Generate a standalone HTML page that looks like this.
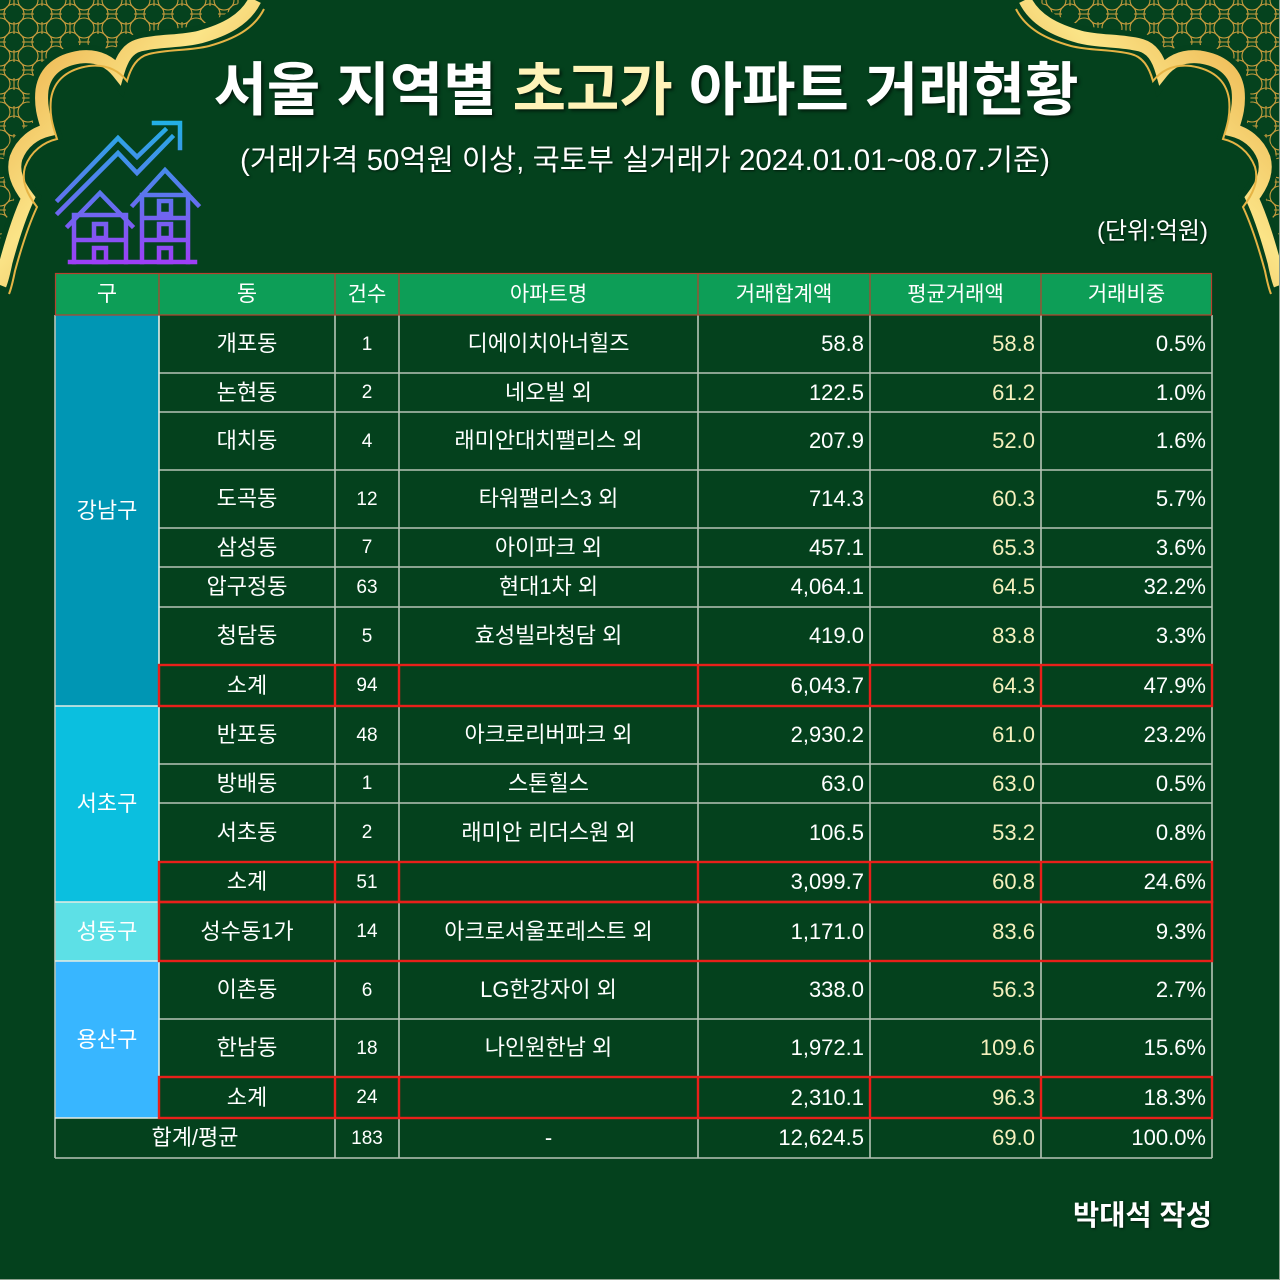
<!DOCTYPE html>
<html><head><meta charset="utf-8">
<style>
*{margin:0;padding:0;box-sizing:border-box}
body{width:1280px;height:1280px;background:#04411d;overflow:hidden;position:relative;font-family:"Liberation Sans","Noto Sans CJK KR",sans-serif}
.abs{position:absolute}
.title{position:absolute;left:0;width:1292px;top:62px;text-align:center;font-size:58px;font-weight:bold;line-height:1;color:#fff;white-space:nowrap;text-shadow:2px 2px 3px rgba(0,0,0,.6)}
.title span{color:#fff3b8}
.sub{position:absolute;left:0;width:1290px;top:146px;text-align:center;font-size:29.5px;line-height:1;color:#fff;white-space:nowrap;text-shadow:1px 1px 2px rgba(0,0,0,.6)}
.unit{position:absolute;right:72px;top:220px;font-size:24px;line-height:1;color:#fff;white-space:nowrap;text-shadow:1px 1px 2px rgba(0,0,0,.6)}
.auth{position:absolute;right:68px;top:1202px;font-size:28.5px;font-weight:bold;line-height:1;color:#fff;white-space:nowrap;text-shadow:1px 1px 2px rgba(0,0,0,.6)}
.hdr{position:absolute;left:55px;top:273px;width:1157px;height:42px;background:#0d9e57}
.row{position:absolute;left:0;width:1280px}
.row>div{position:absolute;top:0;height:100%;display:flex;align-items:center;justify-content:center;color:#fff;font-size:22px;line-height:1;white-space:nowrap}
.c0{left:55px;width:104px}
.c1{left:159px;width:176px}
.c2{left:335px;width:64px;font-size:19px!important}
.c3{left:399px;width:299px}
.c4{left:698px;width:172px;justify-content:flex-end!important;padding-right:6px}
.c5{left:870px;width:171px;justify-content:flex-end!important;padding-right:6px;color:#f6f0bd!important}
.c6{left:1041px;width:171px;justify-content:flex-end!important;padding-right:6px}
.cw{left:55px;width:280px}
.gu{position:absolute;left:55px;width:104px;display:flex;align-items:center;justify-content:center;color:#fff;font-size:22px;line-height:1}
</style></head><body>

<svg class="abs" style="left:0;top:0" width="1280" height="1280" viewBox="0 0 1280 1280">
<defs>
<pattern id="lat" width="28" height="28" patternUnits="userSpaceOnUse">
<rect width="28" height="28" fill="#05421e"/>
<circle cx="0" cy="0" r="10" fill="none" stroke="#c99d3e" stroke-width="1.1"/>
<circle cx="28" cy="0" r="10" fill="none" stroke="#c99d3e" stroke-width="1.1"/>
<circle cx="0" cy="28" r="10" fill="none" stroke="#c99d3e" stroke-width="1.1"/>
<circle cx="28" cy="28" r="10" fill="none" stroke="#c99d3e" stroke-width="1.1"/>
<circle cx="14" cy="14" r="10" fill="none" stroke="#c99d3e" stroke-width="1.1"/>
<path d="M14 0 V6 M14 22 V28 M0 14 H6 M22 14 H28" stroke="#c99d3e" stroke-width="1.1"/>
</pattern>
<linearGradient id="gold" x1="0" y1="0" x2="1" y2="1">
<stop offset="0" stop-color="#e7a33a"/><stop offset="0.45" stop-color="#fbe487"/><stop offset="1" stop-color="#d88f2b"/>
</linearGradient>
<linearGradient id="ic" gradientUnits="userSpaceOnUse" x1="0" y1="118" x2="0" y2="266">
<stop offset="0" stop-color="#1fb3e3"/><stop offset="0.5" stop-color="#5a78ee"/><stop offset="1" stop-color="#a03cf6"/>
</linearGradient>
<g id="corner">
<path d="M0,0 L255,0 C245,20 225,30 200,37 C180,42 160,40 140,45 C128,48 122,58 118,72 C110,62 98,55 80,57 C60,60 45,70 42,90 C40,108 45,120 48,130 C35,133 22,142 16,158 C12,172 18,185 28,198 C20,215 12,240 6,262 C4,272 2,280 0,285 Z" fill="url(#lat)"/>
<path d="M255,0 C245,20 225,30 200,37 C180,42 160,40 140,45 C128,48 122,58 118,72 C110,62 98,55 80,57 C60,60 45,70 42,90 C40,108 45,120 48,130 C35,133 22,142 16,158 C12,172 18,185 28,198 C20,215 12,240 6,262 C4,272 2,280 0,285" fill="none" stroke="#04411d" stroke-width="24"/>
<path d="M255,0 C245,20 225,30 200,37 C180,42 160,40 140,45 C128,48 122,58 118,72 C110,62 98,55 80,57 C60,60 45,70 42,90 C40,108 45,120 48,130 C35,133 22,142 16,158 C12,172 18,185 28,198 C20,215 12,240 6,262 C4,272 2,280 0,285" fill="none" stroke="url(#gold)" stroke-width="13"/>
<path transform="translate(9,9)" d="M255,0 C245,20 225,30 200,37 C180,42 160,40 140,45 C128,48 122,58 118,72 C110,62 98,55 80,57 C60,60 45,70 42,90 C40,108 45,120 48,130 C35,133 22,142 16,158 C12,172 18,185 28,198 C20,215 12,240 6,262 C4,272 2,280 0,285" fill="none" stroke="#e6b445" stroke-width="2"/>
</g>
</defs>
<use href="#corner"/>
<use href="#corner" transform="translate(1280,0) scale(-1,1)"/>

<g fill="none" stroke="url(#ic)" stroke-width="4.5" stroke-linecap="square">
<path d="M58,200 L118,138 L137,157 L165,130"/>
<path d="M58,213 L118,153 L137,173 L172,137"/>
<path d="M154,123 L180,123 L180,148"/>
<path d="M68,226 L100,193 L132,226"/>
<path d="M74,218 V262 M126,218 V262 M74,215 H126 M74,240 H126"/>
<rect x="94" y="224" width="12" height="14"/>
<rect x="94" y="248" width="12" height="14"/>
<path d="M133,205 L165,170 L198,205"/>
<path d="M142,195 V262 M188,195 V262 M142,195 H188 M142,218 H188 M142,240 H188"/>
<rect x="159" y="201" width="12" height="13"/>
<rect x="159" y="224" width="12" height="14"/>
<rect x="159" y="248" width="12" height="14"/>
<path d="M70,262 H195"/>
</g>
</svg>

<div class="title">서울 지역별 <span>초고가</span> 아파트 거래현황</div>
<div class="sub">(거래가격 50억원 이상, 국토부 실거래가 2024.01.01~08.07.기준)</div>
<div class="unit">(단위:억원)</div>

<div class="hdr"></div>
<div class="row" style="top:273px;height:42px">
<div class="c0">구</div><div class="c1">동</div><div class="c2" style="font-size:21px!important">건수</div><div class="c3" style="font-size:21px">아파트명</div>
<div style="left:698px;width:172px;font-size:21px">거래합계액</div><div style="left:870px;width:171px;font-size:21px">평균거래액</div><div style="left:1041px;width:171px;font-size:21px">거래비중</div>
</div>

<div class="gu" style="top:315px;height:391px;background:#0096b4">강남구</div>
<div class="gu" style="top:706px;height:196px;background:#0bbfdf">서초구</div>
<div class="gu" style="top:902px;height:59px;background:#5de0e6">성동구</div>
<div class="gu" style="top:961px;height:157px;background:#38b6ff">용산구</div>

<div class="row" style="top:315px;height:58px"><div class="c1">개포동</div><div class="c2">1</div><div class="c3">디에이치아너힐즈</div><div class="c4">58.8</div><div class="c5">58.8</div><div class="c6">0.5%</div></div>
<div class="row" style="top:373px;height:39px"><div class="c1">논현동</div><div class="c2">2</div><div class="c3">네오빌 외</div><div class="c4">122.5</div><div class="c5">61.2</div><div class="c6">1.0%</div></div>
<div class="row" style="top:412px;height:58px"><div class="c1">대치동</div><div class="c2">4</div><div class="c3">래미안대치팰리스 외</div><div class="c4">207.9</div><div class="c5">52.0</div><div class="c6">1.6%</div></div>
<div class="row" style="top:470px;height:58px"><div class="c1">도곡동</div><div class="c2">12</div><div class="c3">타워팰리스3 외</div><div class="c4">714.3</div><div class="c5">60.3</div><div class="c6">5.7%</div></div>
<div class="row" style="top:528px;height:39px"><div class="c1">삼성동</div><div class="c2">7</div><div class="c3">아이파크 외</div><div class="c4">457.1</div><div class="c5">65.3</div><div class="c6">3.6%</div></div>
<div class="row" style="top:567px;height:40px"><div class="c1">압구정동</div><div class="c2">63</div><div class="c3">현대1차 외</div><div class="c4">4,064.1</div><div class="c5">64.5</div><div class="c6">32.2%</div></div>
<div class="row" style="top:607px;height:58px"><div class="c1">청담동</div><div class="c2">5</div><div class="c3">효성빌라청담 외</div><div class="c4">419.0</div><div class="c5">83.8</div><div class="c6">3.3%</div></div>
<div class="row" style="top:665px;height:41px"><div class="c1">소계</div><div class="c2">94</div><div class="c3"></div><div class="c4">6,043.7</div><div class="c5">64.3</div><div class="c6">47.9%</div></div>
<div class="row" style="top:706px;height:58px"><div class="c1">반포동</div><div class="c2">48</div><div class="c3">아크로리버파크 외</div><div class="c4">2,930.2</div><div class="c5">61.0</div><div class="c6">23.2%</div></div>
<div class="row" style="top:764px;height:39px"><div class="c1">방배동</div><div class="c2">1</div><div class="c3">스톤힐스</div><div class="c4">63.0</div><div class="c5">63.0</div><div class="c6">0.5%</div></div>
<div class="row" style="top:803px;height:59px"><div class="c1">서초동</div><div class="c2">2</div><div class="c3">래미안 리더스원 외</div><div class="c4">106.5</div><div class="c5">53.2</div><div class="c6">0.8%</div></div>
<div class="row" style="top:862px;height:40px"><div class="c1">소계</div><div class="c2">51</div><div class="c3"></div><div class="c4">3,099.7</div><div class="c5">60.8</div><div class="c6">24.6%</div></div>
<div class="row" style="top:902px;height:59px"><div class="c1">성수동1가</div><div class="c2">14</div><div class="c3">아크로서울포레스트 외</div><div class="c4">1,171.0</div><div class="c5">83.6</div><div class="c6">9.3%</div></div>
<div class="row" style="top:961px;height:58px"><div class="c1">이촌동</div><div class="c2">6</div><div class="c3">LG한강자이 외</div><div class="c4">338.0</div><div class="c5">56.3</div><div class="c6">2.7%</div></div>
<div class="row" style="top:1019px;height:58px"><div class="c1">한남동</div><div class="c2">18</div><div class="c3">나인원한남 외</div><div class="c4">1,972.1</div><div class="c5">109.6</div><div class="c6">15.6%</div></div>
<div class="row" style="top:1077px;height:41px"><div class="c1">소계</div><div class="c2">24</div><div class="c3"></div><div class="c4">2,310.1</div><div class="c5">96.3</div><div class="c6">18.3%</div></div>
<div class="row" style="top:1118px;height:40px"><div class="cw">합계/평균</div><div class="c2">183</div><div class="c3">-</div><div class="c4">12,624.5</div><div class="c5">69.0</div><div class="c6">100.0%</div></div>

<svg class="abs" style="left:0;top:0;pointer-events:none" width="1280" height="1280" viewBox="0 0 1280 1280">
<g stroke="#b6c4b6" stroke-width="1.6" fill="none">
<path d="M55,315 V1158 M335,315 V1158 M399,315 V1158 M698,315 V1158 M870,315 V1158 M1041,315 V1158 M1212,315 V1158"/>
<path d="M159,373 H1212 M159,412 H1212 M159,470 H1212 M159,528 H1212 M159,567 H1212 M159,607 H1212 M159,665 H1212 M159,764 H1212 M159,803 H1212 M159,862 H1212 M159,1019 H1212 M159,1077 H1212"/>
<path d="M55,1158 H1212 M159,1118 H1212"/>
</g>
<g stroke="#e4ece4" stroke-width="1.6" fill="none">
<path d="M159,315 V1118 M55,706 H159 M55,902 H159 M55,961 H159 M55,1118 H159"/>
</g>
<g stroke="#b8402e" stroke-width="1.2" fill="none">
<rect x="55.5" y="273.5" width="1156" height="41.5"/>
<path d="M159,273 V315 M335,273 V315 M399,273 V315 M698,273 V315 M870,273 V315 M1041,273 V315"/>
</g>
<g stroke="#e8201a" stroke-width="2.4" fill="none">
<rect x="159" y="665" width="1053" height="41"/>
<path d="M335,665 V706 M399,665 V706 M698,665 V706 M870,665 V706 M1041,665 V706"/>
<rect x="159" y="862" width="1053" height="40"/>
<path d="M335,862 V902 M399,862 V902 M698,862 V902 M870,862 V902 M1041,862 V902"/>
<rect x="159" y="902" width="1053" height="59"/>
<rect x="159" y="1077" width="1053" height="41"/>
<path d="M335,1077 V1118 M399,1077 V1118 M698,1077 V1118 M870,1077 V1118 M1041,1077 V1118"/>
</g>
<path d="M0,1279.5 H1280 M1279.5,0 V1280" stroke="#8fa08f" stroke-width="1"/>
</svg>

<div class="auth">박대석 작성</div>
</body></html>
